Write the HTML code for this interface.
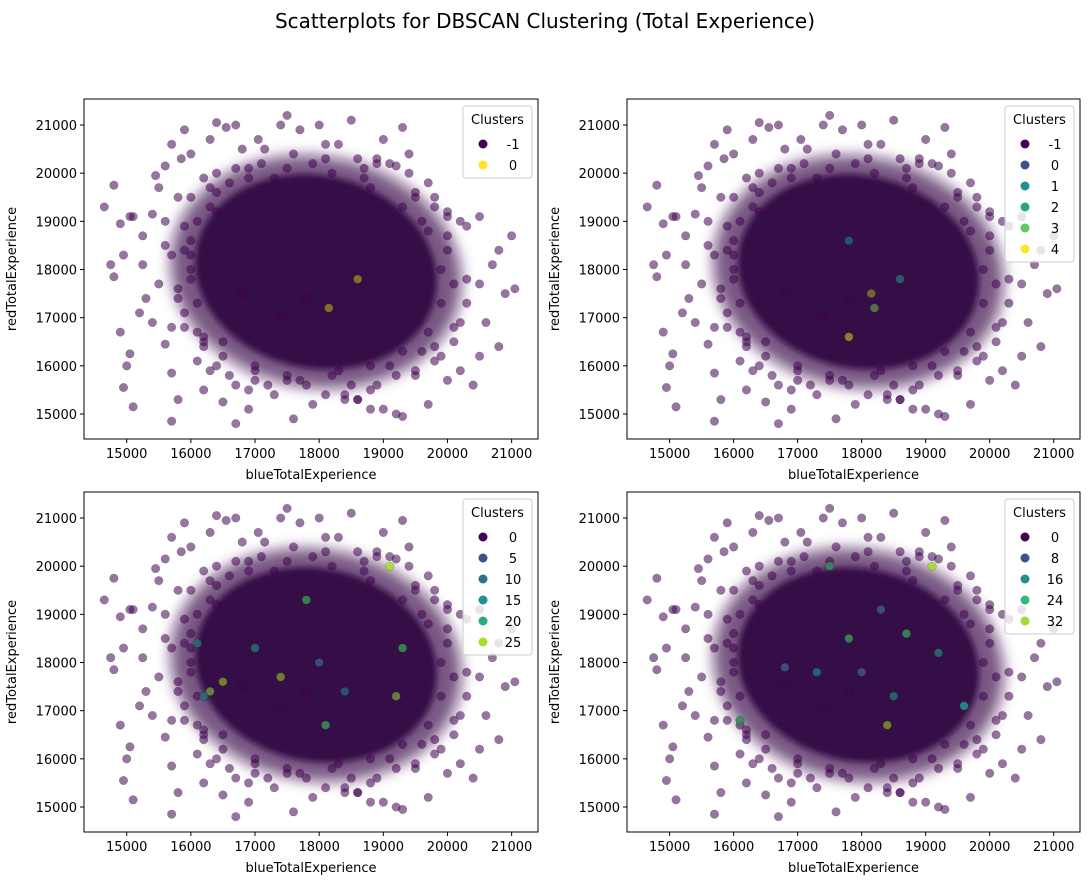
<!DOCTYPE html>
<html><head><meta charset="utf-8">
<style>
body{margin:0;background:#fff;}
svg text{font-family:"DejaVu Sans","Liberation Sans",sans-serif;}
</style></head>
<body>
<svg id="fig" width="1089" height="886" xmlns="http://www.w3.org/2000/svg">
<defs>
<filter id="blur" x="-20%" y="-20%" width="140%" height="140%"><feGaussianBlur stdDeviation="3"/></filter>
<filter id="blur2" x="-30%" y="-30%" width="160%" height="160%"><feGaussianBlur stdDeviation="7"/></filter>
</defs>
<text x="545" y="28" font-size="20" text-anchor="middle" fill="#000">Scatterplots for DBSCAN Clustering (Total Experience)</text>
</svg>
<script>
const xTicks=[15000,16000,17000,18000,19000,20000,21000];
const yTicks=[15000,16000,17000,18000,19000,20000,21000];
const pointsX=[14650,14800,14750,14800,14900,14950,15050,14900,15000,14950,15100,15050,15200,15300,15250,15400,15500,15450,15600,15600,15700,15800,15700,15600,15500,15700,15850,15900,16000,16100,16200,16300,16400,16550,16300,16700,16700,16500,16900,17050,17150,17300,17400,17500,17700,17600,18000,18100,18300,18500,18600,18700,19000,19300,19200,19400,19700,19800,20000,20200,20300,20500,20800,21000,20900,21050,20700,20500,20600,20800,20500,20200,20000,19700,19500,19200,19000,18800,18600,18400,18100,17900,19300,20100,19600,17000,16600,15900,15900,16000,16200,20300,20000,19900,18900,16800,17800,15400,15250,15100,16000,16100,16200,16500,17000,17500,18200,18800,19300,19700,19900,19900,19700,19300,18800,18200,17500,16900,16400,16100,16000,15800,15900,16200,16400,16900,17200,18400,18900,19500,20100,20300,19800,19100,17600,16900,16300,15700,
15800,15900,16000,16100,16300,16500,16700,17000,17300,17700,18100,18500,18900,19200,19500,19800,20000,20100,20200,20000,19800,19500,19100,18700,18300,17900,17500,17100,16700,16400,16200,16000,15800,15700,16600,17400,18600,19400,20400,16800,17800,18800,19600,15600,16400];
const pointsY=[19300,19750,18100,17850,18950,18300,19100,16700,16000,15550,15150,16250,17100,17400,18700,19150,19700,19950,20150,19000,14850,15300,15850,16450,17700,20600,20300,20900,20400,16100,15500,15900,21050,20950,20700,21000,14800,15250,15100,20700,20500,15400,21000,21200,20900,14900,21000,20600,20600,21100,20300,20100,20700,20950,20150,20000,19800,19300,19200,19000,18900,19100,18400,18700,17500,17600,18100,17700,16900,16400,16200,15900,15700,15200,15800,15000,15100,15500,15300,15300,15400,15200,14950,16800,16300,15700,15800,16800,18400,19500,19900,17300,18400,16200,20300,20500,15600,16900,18100,19100,18000,17300,16600,16200,16000,15800,15800,16000,16300,16700,17300,18000,18800,19300,19700,20000,20100,19900,19600,19000,18600,17600,17100,16500,16000,15500,15600,15400,15600,15900,16500,17800,19500,20200,20400,20100,19700,18300,
17400,18900,17800,16700,19300,16500,20100,15900,19900,15700,20300,15600,20200,15800,19600,16100,18700,17700,16900,19100,16400,19500,16000,19900,15900,20200,15700,20200,15600,20000,16400,18300,19500,16800,19800,17000,15300,20400,15600,17500,17400,15100,19000,18500,19200,17200];
const coreCenter=[17950,17950];
const coreRadii=[1900,2000];
const legendTitles=["Clusters","Clusters","Clusters","Clusters"];
const legendLabels=[["-1","0"],["-1","0","1","2","3","4"],["0","5","10","15","20","25"],["0","8","16","24","32"]];
const legendColors=[["#440154","#fde725"],["#440154","#3b528b","#21918c","#22a884","#5ec962","#fde725"],["#440154","#3b528b","#2c728e","#21918c","#27ad81","#aadc32"],["#440154","#3b528b","#21918c","#35b779","#a0da39"]];
const clusterX=[[18600,18150],[17800,18150,17800,18600,18200],[16300,16200,17800,18400,19300,16500,17000,18100,19100,17400,18000,19200,16100],[17800,18300,18500,19100,17300,18700,16100,19200,18000,18400,17500,19600,16800]];
const clusterY=[[17800,17200],[16600,17500,18600,17800,17200],[17400,17300,19300,17400,18300,17600,18300,16700,20000,17700,18000,17300,18400],[18500,19100,17300,20000,17800,18600,16800,18200,17800,16700,20000,17100,17900]];
const clusterC=[["#8a7a2e","#8a7a2e"],["#9a8a30","#7a7030","#2a5a6a","#2e6070","#5a7a4a"],["#6a8a38","#2a6a70","#3a8a5a","#2a5a75","#3a8a5a","#7a8a30","#2a6a70","#3a8a5a","#aadc32","#7a8a30","#3b528b","#6a8a38","#2a6a70"],["#3a8a5a","#3b528b","#2a6a70","#a0da39","#2a6a70","#3a8a5a","#3a8a5a","#2a6a70","#3b528b","#7a8a30","#3a8a5a","#21918c","#3b528b"]];
const panels=[[84,99,454,340],[627,99,453,340],[84,492,454,340],[627,492,453,340]];
const NS="http://www.w3.org/2000/svg";
const fig=document.getElementById('fig');
function mk(t,a,p){const e=document.createElementNS(NS,t);for(const k in a)e.setAttribute(k,a[k]);(p||fig).appendChild(e);return e;}
panels.forEach((P,pi)=>{
  const [L,T,W,H]=P;
  const xs=v=>L+(v-14334)/7077*W;
  const ys=v=>T+(21540-v)/7059*H;
  const g=mk('g',{});
  
  
  const cl=mk('clipPath',{id:'c'+pi},g);mk('rect',{x:L,y:T,width:W,height:H},cl);
  const pts=mk('g',{'clip-path':'url(#c'+pi+')'},g);
  const cx=xs(coreCenter[0]), cy=ys(coreCenter[1]);
  const rx=xs(coreCenter[0]+coreRadii[0])-cx, ry=cy-ys(coreCenter[1]+coreRadii[1]);
  const halo=mk('ellipse',{cx:cx,cy:cy,rx:rx*1.2,ry:ry*1.2,fill:'#3e0b50','fill-opacity':0.7,filter:'url(#blur2)',transform:'rotate(10 '+cx+' '+cy+')'},pts);
  
  
  const core=mk('ellipse',{cx:cx,cy:cy,rx:rx,ry:ry,fill:'#360a47',filter:'url(#blur)',transform:'rotate(12 '+cx+' '+cy+')'},pts);
  
  
  pointsX.forEach((x,i)=>{
    const c=mk('circle',{cx:xs(x),cy:ys(pointsY[i]),r:4.3,fill:'#440154','fill-opacity':0.55,stroke:'#000','stroke-opacity':0.25,'stroke-width':0.5},pts);
    
    
  });
  clusterX[pi].forEach((x,i)=>{
    const c=mk('circle',{cx:xs(x),cy:ys(clusterY[pi][i]),r:4.3,fill:clusterC[pi][i],'fill-opacity':0.9,stroke:'#000','stroke-opacity':0.3,'stroke-width':0.5},pts);
    
    
  });
  mk('rect',{x:L,y:T,width:W,height:H,fill:'none',stroke:'#000','stroke-width':1},g);
  xTicks.forEach(v=>{
    mk('line',{x1:xs(v),x2:xs(v),y1:T+H,y2:T+H+4,stroke:'#000'},g);
    const t=mk('text',{x:xs(v),y:T+H+19,'font-size':13,'text-anchor':'middle'},g);t.textContent=v;
    
    
  });
  yTicks.forEach(v=>{
    mk('line',{x1:L-4,x2:L,y1:ys(v),y2:ys(v),stroke:'#000'},g);
    const t=mk('text',{x:L-7,y:ys(v)+5,'font-size':13,'text-anchor':'end'},g);t.textContent=v;
    
    
  });
  const xl=mk('text',{x:L+W/2,y:T+H+40,'font-size':13,'text-anchor':'middle'},g);xl.textContent='blueTotalExperience';
  
  
  const yl=mk('text',{x:0,y:0,'font-size':13,'text-anchor':'middle',transform:'translate('+(L-68)+','+(T+H/2)+') rotate(-90)'},g);yl.textContent='redTotalExperience';
  
  
  const n=legendLabels[pi].length;
  const lx=L+W-75, ly=T+7;
  const lg=mk('g',{},g);
  
  
  mk('rect',{x:lx,y:ly,width:69,height:30+21*n,rx:3,fill:'#fff','fill-opacity':0.8,stroke:'#ccc'},lg);
  const lt=mk('text',{x:lx+34.5,y:ly+18,'font-size':13,'text-anchor':'middle'},lg);lt.textContent=legendTitles[pi];
  
  
  legendLabels[pi].forEach((lab,i)=>{
    const yy=ly+38+21*i;
    const m=mk('circle',{cx:lx+20,cy:yy,r:4.5,fill:legendColors[pi][i]},lg);
    
    
    const tx=mk('text',{x:lx+50,y:yy+5,'font-size':13,'text-anchor':'middle'},lg);tx.textContent=lab;
    
    
  });
});
</script>
</body></html>
